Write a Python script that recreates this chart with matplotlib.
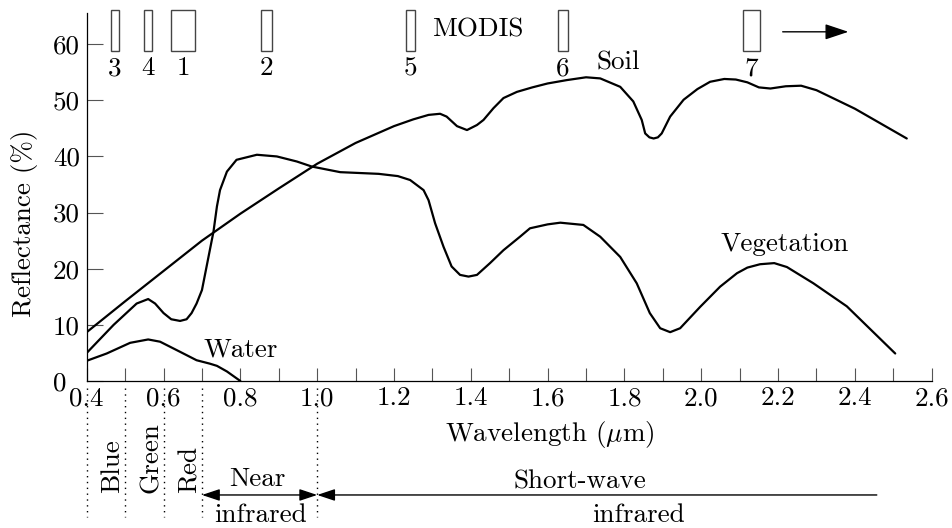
import matplotlib
matplotlib.use('Agg')
import matplotlib.pyplot as plt
from matplotlib.patches import Rectangle
from matplotlib.transforms import ScaledTranslation

plt.rcParams['font.family'] = 'cmr10'
plt.rcParams['mathtext.fontset'] = 'cm'
plt.rcParams['axes.unicode_minus'] = False
plt.rcParams['axes.formatter.use_mathtext'] = True

# reflectance curves (wavelength in um, reflectance in %)
soil_x = [0.40, 0.50, 0.60, 0.70, 0.80, 0.90, 1.00, 1.10, 1.20, 1.25, 1.29, 1.32, 1.337,
          1.364, 1.39, 1.416, 1.433, 1.459, 1.485, 1.52, 1.56, 1.60, 1.65, 1.70, 1.737,
          1.789, 1.823, 1.845, 1.854, 1.865, 1.876, 1.887, 1.897, 1.919, 1.954, 1.99,
          2.023, 2.06, 2.09, 2.12, 2.15, 2.18, 2.22, 2.26, 2.30, 2.40, 2.535]
soil_y = [8.7, 14.2, 19.6, 25.0, 29.8, 34.3, 38.7, 42.4, 45.4, 46.6, 47.4, 47.6, 47.1,
          45.4, 44.7, 45.6, 46.5, 48.6, 50.4, 51.5, 52.3, 53.0, 53.6, 54.1, 53.9,
          52.4, 49.8, 46.5, 44.1, 43.4, 43.2, 43.4, 44.1, 47.1, 50.1, 52.0,
          53.3, 53.8, 53.7, 53.2, 52.3, 52.1, 52.5, 52.6, 51.8, 48.5, 43.2]

veg_x = [0.40, 0.47, 0.53, 0.56, 0.578, 0.60, 0.62, 0.643, 0.66, 0.673, 0.686, 0.70, 0.717,
         0.73, 0.739, 0.747, 0.765, 0.79, 0.843, 0.895, 0.947, 0.986, 1.06, 1.16, 1.21,
         1.242, 1.277, 1.29, 1.307, 1.329, 1.35, 1.372, 1.394, 1.416, 1.45, 1.485, 1.528,
         1.554, 1.60, 1.633, 1.693, 1.737, 1.789, 1.832, 1.866, 1.893, 1.919, 1.945,
         1.997, 2.049, 2.093, 2.12, 2.153, 2.19, 2.223, 2.292, 2.379, 2.505]
veg_y = [5.0, 10.0, 13.8, 14.6, 13.8, 12.1, 11.0, 10.7, 11.0, 12.1, 13.8, 16.2, 22.1,
         26.6, 31.1, 34.0, 37.3, 39.4, 40.3, 40.0, 39.1, 38.2, 37.2, 36.9, 36.5,
         35.8, 34.0, 32.2, 28.1, 23.9, 20.4, 18.9, 18.6, 18.9, 21.0, 23.3, 25.7,
         27.2, 27.9, 28.2, 27.8, 25.7, 22.1, 17.4, 12.1, 9.4, 8.7, 9.4,
         13.2, 16.8, 19.2, 20.2, 20.8, 21.0, 20.3, 17.4, 13.3, 4.9]

water_x = [0.40, 0.452, 0.513, 0.56, 0.591, 0.643, 0.686, 0.72, 0.739, 0.765, 0.80]
water_y = [3.6, 4.9, 6.8, 7.4, 7.0, 5.2, 3.7, 3.1, 2.7, 1.7, 0.0]

# MODIS bands (um)
band_names = ['3', '4', '1', '2', '5', '6', '7']
band_lo = [0.4625, 0.550, 0.620, 0.853, 1.2316, 1.6275, 2.108]
band_hi = [0.485, 0.569, 0.682, 0.882, 1.255, 1.652, 2.152]

# spectral regions below the axis
edges = [0.4, 0.5, 0.6, 0.7, 1.0]
colour_names = ['Blue', 'Green', 'Red']
colour_pos = [0.485, 0.586, 0.686]
swir_end = 2.457

xticks = [0.4, 0.6, 0.8, 1.0, 1.2, 1.4, 1.6, 1.8, 2.0, 2.2, 2.4, 2.6]
xminor = [0.5, 0.7, 0.9, 1.1, 1.3, 1.5, 1.7, 1.9, 2.1, 2.3, 2.5]
yticks = [0, 10, 20, 30, 40, 50, 60]

fs = 19.5
fig = plt.figure(figsize=(9.52, 5.28), dpi=100)
ax = fig.add_axes([0.0911, 0.2784, 0.8876, 0.6975])

for xs, ys in [(soil_x, soil_y), (veg_x, veg_y), (water_x, water_y)]:
    ax.plot(xs, ys, color='black', lw=1.6, solid_joinstyle='round', solid_capstyle='round')

ax.set_xlim(0.4, 2.6)
ax.set_ylim(0, 65.6)
ax.spines['top'].set_visible(False)
ax.spines['right'].set_visible(False)
ax.spines['left'].set_linewidth(0.9)
ax.spines['bottom'].set_linewidth(0.9)

ax.set_xticks(xticks)
ax.set_xticklabels(['%.1f' % v for v in xticks])
ax.set_xticks(xminor, minor=True)
ax.set_yticks(yticks)
ax.set_yticklabels([str(v) for v in yticks])
ax.tick_params(axis='x', which='both', direction='in', length=9.4, width=0.8,
               color='#555555', labelsize=fs, pad=4)
ax.tick_params(axis='y', direction='in', length=11.3, width=0.8,
               color='#555555', labelsize=fs, pad=5)
# the "0" sits further left, clear of "0.4"
zero = ax.get_yticklabels()[0]
zero.set_transform(zero.get_transform() + ScaledTranslation(-0.13, 0, fig.dpi_scale_trans))

fig.text(25 / 952, 1 - 223 / 528, 'Reflectance (%)', rotation=90, ha='center',
         va='center', fontsize=fs)
fig.text(550 / 952, 1 - 435 / 528, r'Wavelength ($\mu$m)', ha='center', va='center',
         fontsize=fs)

# MODIS band boxes
for name, lo, hi in zip(band_names, band_lo, band_hi):
    ax.add_patch(Rectangle((lo, 58.8), hi - lo, 7.3, fill=False, edgecolor='#444444',
                           lw=1.0, clip_on=False))
    ax.text((lo + hi) / 2, 54.5, name, ha='center', va='baseline', fontsize=fs)
ax.text(1.299, 61.3, 'MODIS', ha='left', va='baseline', fontsize=fs)
ax.annotate('', xy=(2.383, 62.2), xytext=(2.212, 62.2),
            arrowprops=dict(arrowstyle='-|>,head_length=0.72,head_width=0.24',
                            mutation_scale=20, color='black', lw=1.0,
                            shrinkA=0, shrinkB=0))

ax.text(1.726, 55.4, 'Soil', ha='left', va='baseline', fontsize=fs)
ax.text(2.049, 23.2, 'Vegetation', ha='left', va='baseline', fontsize=fs)
ax.text(0.704, 4.3, 'Water', ha='left', va='baseline', fontsize=fs)

# regions under the axis
for e in edges:
    ax.plot([e, e], [-1.25, -24.2], color='black', lw=1.0, ls=(0, (1, 3.2)),
            clip_on=False, zorder=0)
for name, xp in zip(colour_names, colour_pos):
    ax.text(xp, -20.0, name, rotation=90, rotation_mode='anchor', ha='left',
            va='baseline', fontsize=fs, clip_on=False)

arr_y = -20.3
ax.annotate('', xy=(0.7, arr_y), xytext=(1.0, arr_y), annotation_clip=False,
            arrowprops=dict(arrowstyle='<|-|>,head_length=0.54,head_width=0.18',
                            mutation_scale=20, color='black', lw=1.0,
                            shrinkA=0, shrinkB=0))
ax.annotate('', xy=(1.0, arr_y), xytext=(swir_end, arr_y), annotation_clip=False,
            arrowprops=dict(arrowstyle='-|>,head_length=0.54,head_width=0.18',
                            mutation_scale=20, color='black', lw=1.0,
                            shrinkA=0, shrinkB=0))
ax.text(0.845, -18.7, 'Near', ha='center', va='baseline', fontsize=fs, clip_on=False)
ax.text(0.853, -25.1, 'infrared', ha='center', va='baseline', fontsize=fs, clip_on=False)
ax.text(1.685, -19.1, 'Short-wave', ha='center', va='baseline', fontsize=fs, clip_on=False)
ax.text(1.837, -25.1, 'infrared', ha='center', va='baseline', fontsize=fs, clip_on=False)

fig.savefig('out.png', dpi=100)
